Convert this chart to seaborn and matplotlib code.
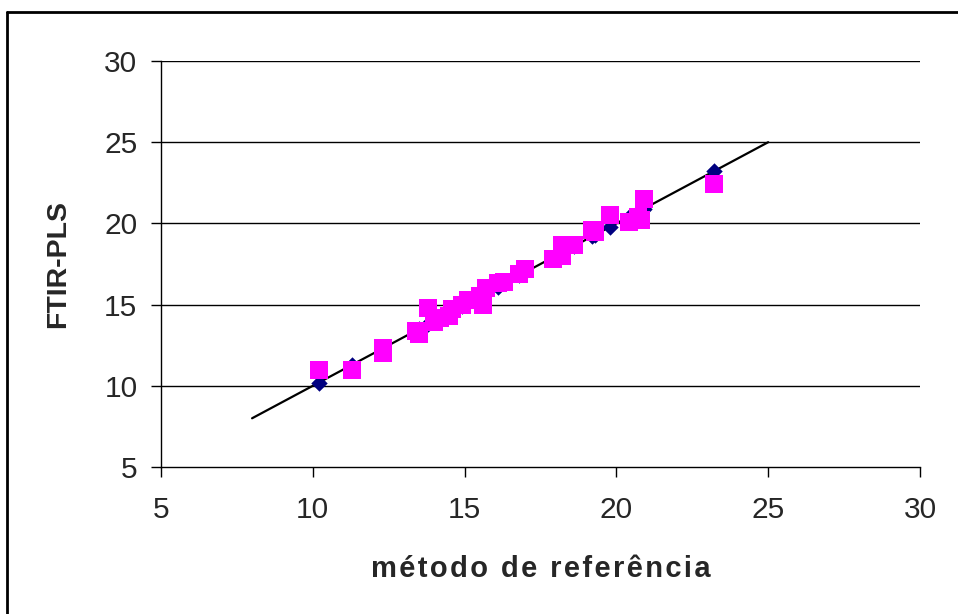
import matplotlib
matplotlib.use("Agg")
import matplotlib.pyplot as plt
from matplotlib.lines import Line2D
import seaborn as sns
import pandas as pd

# Reference method values (x) and FTIR-PLS predictions (y)
referencia = [10.2, 11.3, 12.3, 12.3, 13.4, 13.5, 13.8, 14.0, 14.2, 14.5, 14.6,
              14.9, 15.1, 15.5, 15.6, 15.7, 16.1, 16.3, 16.8, 17.0, 17.9, 18.2,
              18.2, 18.6, 19.2, 19.3, 19.8, 20.4, 20.7, 20.8, 20.9, 23.2]
ftir_pls = [11.0, 11.0, 12.3, 12.0, 13.4, 13.2, 14.8, 13.9, 14.2, 14.3, 14.7,
            15.0, 15.3, 15.5, 15.0, 16.0, 16.3, 16.4, 16.9, 17.2, 17.8, 18.0,
            18.7, 18.7, 19.6, 19.5, 20.5, 20.1, 20.4, 20.2, 21.5, 22.4]
linha_x = [8, 25]
linha_y = [8, 25]
xticks = [5, 10, 15, 20, 25, 30]
yticks = [5, 10, 15, 20, 25, 30]

df = pd.DataFrame({"ref": referencia, "pls": ftir_pls})

sns.set_theme(style="white")
plt.rcParams["font.family"] = ["Liberation Sans", "DejaVu Sans"]

fig = plt.figure(figsize=(9.58, 6.14), dpi=100)
ax = fig.add_axes([161 / 958, 1 - 467 / 614, (920 - 161) / 958, (467 - 61) / 614])

# horizontal grid lines
for yv in yticks[1:]:
    ax.axhline(yv, color="#000000", lw=1.0, zorder=0)

# reference line
sns.lineplot(x=linha_x, y=linha_y, ax=ax, color="black", lw=1.6, zorder=2)
# fitted (x, x) markers - navy diamonds
sns.scatterplot(x=df["ref"], y=df["ref"], ax=ax, marker="D", s=70,
                color="#000080", edgecolor="#000080", linewidth=0, zorder=3)
# predicted values - magenta squares
sns.scatterplot(data=df, x="ref", y="pls", ax=ax, marker="s", s=180,
                color="#FF00FF", edgecolor="#FF00FF", linewidth=0, zorder=4)

ax.set_xlim(5, 30)
ax.set_ylim(5, 30)
ax.set_xticks(xticks)
ax.set_yticks(yticks)
ax.set_xticklabels([str(t) for t in xticks])
ax.set_yticklabels([str(t) for t in yticks])
ax.tick_params(axis="both", which="major", labelsize=21.5, direction="out",
               length=7, width=1, color="black", pad=10, bottom=True, left=True)
ax.tick_params(axis="x", pad=14)
for side in ["top", "right"]:
    ax.spines[side].set_visible(False)
for side in ["left", "bottom"]:
    ax.spines[side].set_color("black")
    ax.spines[side].set_linewidth(1.0)

xlabel_text = "\u200a".join("método de referência")
ax.set_xlabel(xlabel_text, fontsize=21, fontweight="bold", labelpad=22)
ax.set_ylabel("FTIR-PLS", fontsize=20.5, fontweight="bold", labelpad=24)

# outer chart frame (top and left edges visible)
fig.add_artist(Line2D([7 / 958, 1.0], [1 - 12 / 614, 1 - 12 / 614],
                      transform=fig.transFigure, color="black", lw=2))
fig.add_artist(Line2D([7 / 958, 7 / 958], [0.0, 1 - 12 / 614],
                      transform=fig.transFigure, color="black", lw=2))

fig.savefig("out.png", dpi=100)
